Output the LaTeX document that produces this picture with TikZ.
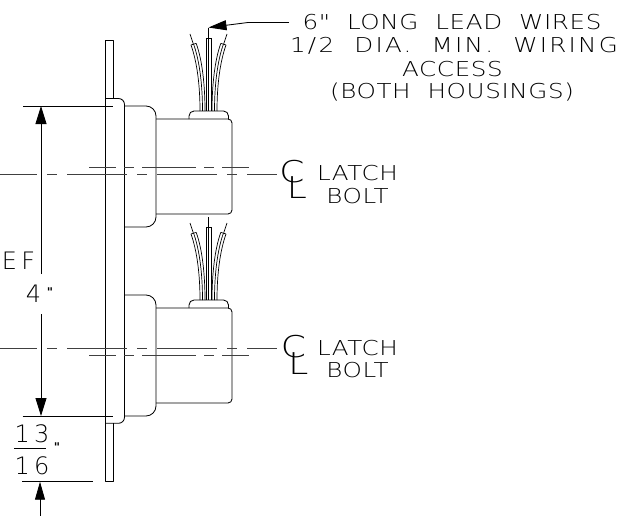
\documentclass[tikz,border=0pt]{standalone}
\usepackage{fontspec}
\setmainfont{DejaVu Sans ExtraLight}[LetterSpace=18]
\newfontfamily\notefont{DejaVu Sans ExtraLight}[FakeStretch=1.2, LetterSpace=3, WordSpace=2]
\newfontfamily\markfont{DejaVu Sans Bold}[LetterSpace=10]
\usepackage{tikz}
\usetikzlibrary{arrows.meta}
\tikzset{
    outline/.style={line width=0.85pt, line join=round},
    thinline/.style={line width=0.7pt},
    % Centre line styles
    centerlong/.style={line width=0.9pt, black!75, dash pattern=on 60pt off 10pt on 10pt off 10pt, dash phase=23pt},
    centershort/.style={line width=0.9pt, black!75, dash pattern=on 54pt off 8pt on 10pt off 8pt, dash phase=27pt},
    % Dimension styles
    dimline/.style={line width=0.85pt},
    dimarrow/.style={dimline, -{Triangle[length=18pt, width=11pt]}},
    % Text styles
    note/.style={font=\notefont\fontsize{20.5}{24}\selectfont, inner sep=0pt},
    notewide/.style={font=\notefont\fontsize{20.5}{24}\selectfont\addfontfeature{LetterSpace=11}, inner sep=0pt},
    dimtext/.style={font=\fontsize{24}{28}\selectfont, inner sep=0pt},
    symbol/.style={font=\notefont\fontsize{30}{34}\selectfont, inner sep=0pt},
    inchmark/.style={font=\markfont\fontsize{12}{13}\selectfont, inner sep=0pt},
    % Housing drawn at its upper position
    housing/.pic={
        \draw[outline, rounded corners=10pt] (124.5,106) -- (156,106) -- (156,227) -- (124.5,227);
        \draw[outline, rounded corners=4pt] (156,119) -- (232,119) -- (232,214) -- (156,214);
        \draw[outline, rounded corners=5pt] (189,119) -- (189,111) -- (228.5,111) -- (228.5,119);
    },
    % Lead wires drawn at their upper position
    leads/.pic={
        \draw[thinline] (190,34) -- (193.3,44);
        \draw[thinline] (227,34) -- (223.7,44);
        \draw[thinline] (208.5,28) -- (208.5,38);
        \draw[thinline] (191,45) .. controls (197,62) and (200,85) .. (200,111);
        \draw[thinline] (193.6,44.2) .. controls (199.6,61) and (202.5,85) .. (202.5,111);
        \draw[thinline] (196.2,43.4) .. controls (202.2,60) and (205,85) .. (205,111);
        \draw[thinline] (191,45) -- (196.2,43.4);
        \draw[thinline] (226,45) .. controls (220,62) and (217,85) .. (217,111);
        \draw[thinline] (223.4,44.2) .. controls (217.4,61) and (214.5,85) .. (214.5,111);
        \draw[thinline] (220.8,43.4) .. controls (214.8,60) and (212,85) .. (212,111);
        \draw[thinline] (226,45) -- (220.8,43.4);
        \draw[thinline] (206,111) -- (206,38) -- (211,38) -- (211,111);
        \draw[thinline] (208.5,38) -- (208.5,111);
    }
}
\begin{document}
\begin{tikzpicture}[x=1pt, y=-1pt]
    \useasboundingbox (0,0) rectangle (639,516);

    % Mounting plate and flange
    \draw[outline] (113.3,98.5) -- (113.3,40.5) -- (105,40.5) -- (105,481.7) -- (113.3,481.7) -- (113.3,423.3);
    \draw[outline, rounded corners=6pt] (105,98.5) -- (124.5,98.5) -- (124.5,423.3) -- (105,423.3);

    % Two housings with their wires
    \pic at (0,0) {housing};
    \pic at (0,189) {housing};
    \pic at (0,0) {leads};
    \pic at (0,189) {leads};

    % Centre lines
    \draw[centerlong] (0,174) -- (277,174);
    \draw[centershort] (89,167) -- (249,167);
    \draw[centerlong] (0,348.3) -- (277,348.3);
    \draw[centershort] (89,355.3) -- (249,355.3);

    % Leader to the wires
    \coordinate (leadstart) at (289,22.5);
    \coordinate (leadbend) at (248,22.5);
    \coordinate (leadtip) at (208.5,27.5);
    \draw[dimline] (leadstart) -- (leadbend);
    \draw[dimline, -{Triangle[length=18pt, width=10pt]}] (leadbend) -- (leadtip);

    % Wire note
    \node[note] (wiresa) at (452,22.5) {6" LONG LEAD WIRES};
    \node[notewide] (wiresb) at (454,45.5) {1/2 DIA. MIN. WIRING};
    \node[note] (wiresc) at (452.5,69.5) {ACCESS};
    \node[note] (wiresd) at (452,92.5) {(BOTH HOUSINGS)};

    % Upper bolt note
    \node[symbol] (cupper) at (292,172) {C};
    \node[symbol] (lupper) at (297,188) {L};
    \node[note] (latchupper) at (357.5,173.5) {LATCH};
    \node[note] (boltupper) at (357.5,196) {BOLT};

    % Lower bolt note
    \node[symbol] (clower) at (293.5,347) {C};
    \node[symbol] (llower) at (298.5,364) {L};
    \node[note] (latchlower) at (357.5,348) {LATCH};
    \node[note] (boltlower) at (357.5,370.5) {BOLT};

    % Overall dimension
    \coordinate (topa) at (23,106);
    \coordinate (topb) at (113,106);
    \coordinate (lowa) at (22.7,416);
    \coordinate (lowb) at (113,416);
    \coordinate (arrowtop) at (41,106);
    \coordinate (arrowlow) at (41,416);
    \node[dimtext] (efnode) at (18.5,261) {EF};
    \node[dimtext] (fournode) at (33.5,294) {4};
    \node[inchmark] (fourinch) at (50,292) {"};
    \draw[dimline] (topa) -- (topb);
    \draw[dimline] (lowa) -- (lowb);
    \draw[dimarrow] (41,274) -- (arrowtop);
    \draw[dimarrow] (41,314) -- (arrowlow);

    % Small dimension
    \coordinate (platea) at (22,481.7);
    \coordinate (plateb) at (93,481.7);
    \coordinate (barleft) at (14,448.7);
    \coordinate (barright) at (46,448.7);
    \coordinate (platetail) at (40,516);
    \coordinate (platetip) at (40,481.7);
    \node[dimtext] (thirteen) at (32,434) {13};
    \node[dimtext] (sixteen) at (32,465.5) {16};
    \node[inchmark] (smallinch) at (57,447) {"};
    \draw[dimline] (barleft) -- (barright);
    \draw[dimline] (platea) -- (plateb);
    \draw[dimline, -{Triangle[length=18pt, width=10pt]}] (platetail) -- (platetip);
\end{tikzpicture}
\end{document}
